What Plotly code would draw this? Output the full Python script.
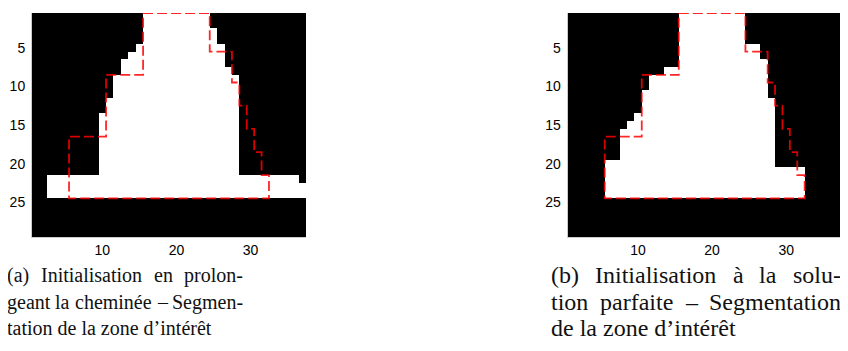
import plotly.graph_objects as go

# image size (rows x columns)
n_rows = 29
n_cols = 37

# white run of each row (first and last white column), None = all black
left_first = [16, 16, 16, 16, 15, 14, 13, 13, 12, 12, 12, 11, 11, 10, 10, 10, 10, 10,
              10, 10, 10, 3, 3, 3, None, None, None, None, None]
left_last = [24, 24, 25, 25, 26, 26, 26, 27, 28, 28, 28, 28, 28, 28, 28, 28, 28, 28,
             28, 28, 28, 36, 37, 37, None, None, None, None, None]

right_first = [16, 16, 16, 16, 16, 16, 16, 14, 12, 12, 11, 11, 11, 10, 9, 8, 8, 8,
               8, 6, 6, 6, 6, 6, None, None, None, None, None]
right_last = [24, 24, 24, 24, 26, 26, 27, 27, 27, 27, 27, 28, 28, 28, 28, 28, 28, 28,
              28, 28, 32, 32, 32, 32, None, None, None, None, None]

# reference contour (same on both panels)
contour_x = [15.5, 24.5, 24.5, 27.5, 27.5, 28.5, 28.5, 29.5, 29.5, 30.5, 30.5, 31.5,
             31.5, 32.5, 32.5, 5.5, 5.5, 10.5, 10.5, 15.5, 15.5]
contour_y = [0.5, 0.5, 5.5, 5.5, 9.5, 9.5, 12.5, 12.5, 15.5, 15.5, 18.5, 18.5,
             21.5, 21.5, 24.5, 24.5, 16.5, 16.5, 8.5, 8.5, 0.5]

x_ticks = [10, 20, 30]
y_ticks = [5, 10, 15, 20, 25]

caption_a = ["(a) Initialisation en prolon-",
             "geant la cheminée – Segmen-",
             "tation de la zone d’intérêt"]
caption_b = ["(b) Initialisation à la solu-",
             "tion parfaite – Segmentation",
             "de la zone d’intérêt"]

# rough advance widths (em) of the serif font, used to justify caption lines
glyph_w = {'(': .333, ')': .333, 'a': .444, 'b': .5, 'I': .333, 'n': .5, 'i': .278,
           't': .278, 'l': .278, 's': .389, 'o': .5, 'e': .444, 'p': .5, 'r': .333,
           '-': .333, 'g': .5, 'c': .444, 'h': .5, 'm': .778, 'é': .444, '–': .5,
           'S': .556, 'à': .444, 'u': .5, 'f': .333, 'd': .5, 'z': .444, '’': .333,
           'ê': .444}


def build_mask(first, last):
    z = []
    for a, b in zip(first, last):
        row = [0] * n_cols
        if a is not None:
            for c in range(a, b + 1):
                row[c - 1] = 1
        z.append(row)
    return z


# the page puts the plot 8px in from the top-left corner
OFF = 8
W, H = 848 - OFF, 351 - OFF


def px(x):
    return (x - OFF) / W


def py(y):
    return 1 - (y - OFF) / H


fig = go.Figure()

for i, (first, last) in enumerate([(left_first, left_last), (right_first, right_last)]):
    sx = '' if i == 0 else '2'
    fig.add_trace(go.Heatmap(z=build_mask(first, last),
                             x=list(range(1, n_cols + 1)),
                             y=list(range(1, n_rows + 1)),
                             colorscale=[[0, 'black'], [1, 'white']],
                             zmin=0, zmax=1, showscale=False, hoverinfo='skip',
                             xaxis='x' + sx, yaxis='y' + sx))
    fig.add_trace(go.Scatter(x=contour_x, y=contour_y, mode='lines',
                             line=dict(color='rgba(255,0,0,0.85)', width=1.8, dash='10px,4px'),
                             showlegend=False, hoverinfo='skip',
                             xaxis='x' + sx, yaxis='y' + sx))

tick_font = dict(family='Liberation Sans, Arial, sans-serif', size=14, color='black')
xdoms = [[px(32), px(306)], [px(567.7), px(841.7)]]
ydom = [py(237), py(13)]
for i in range(2):
    sx = '' if i == 0 else '2'
    fig.layout['xaxis' + sx] = dict(domain=xdoms[i], range=[0.5, n_cols + 0.5],
                                    tickvals=x_ticks, ticks='', showgrid=False, zeroline=False,
                                    showline=True, linecolor='#cccccc', linewidth=1,
                                    tickfont=tick_font, ticklabelstandoff=0,
                                    automargin=False, anchor='y' + sx)
    fig.layout['yaxis' + sx] = dict(domain=ydom, range=[n_rows + 0.5, 0.5],
                                    tickvals=y_ticks, ticks='', showgrid=False, zeroline=False,
                                    showline=True, linecolor='#cccccc', linewidth=1,
                                    tickfont=tick_font, ticklabelstandoff=3,
                                    automargin=False, anchor='x' + sx)

# captions: first two lines justified to the column, last line left aligned
line_y = [275, 302, 328]
for x0, x1, lines, size in [(7, 243, caption_a, 20), (551, 841, caption_b, 24)]:
    font = dict(family='Liberation Serif, serif', size=size, color='#111111')
    for k, (ly, txt) in enumerate(zip(line_y, lines)):
        words = txt.split(' ')
        if k == len(lines) - 1:
            items = [(x0, txt, 'left')]
        else:
            widths = [sum(glyph_w.get(ch, .5) for ch in w) * size for w in words]
            gap = (x1 - x0 - sum(widths)) / (len(words) - 1)
            items, cur = [], x0
            for j, (w, wd) in enumerate(zip(words, widths)):
                if j == len(words) - 1:
                    items.append((x1, w, 'right'))
                else:
                    items.append((cur, w, 'left'))
                cur += wd + gap
        for xw, w, anc in items:
            fig.add_annotation(x=px(xw), y=py(ly), xref='paper', yref='paper',
                               text=w, showarrow=False, xanchor=anc, yanchor='middle',
                               borderpad=0, borderwidth=0, font=font)

fig.update_layout(width=W, height=H, margin=dict(l=0, r=0, t=0, b=0),
                  paper_bgcolor='white', plot_bgcolor='white', showlegend=False)

fig.write_html("out.html")
